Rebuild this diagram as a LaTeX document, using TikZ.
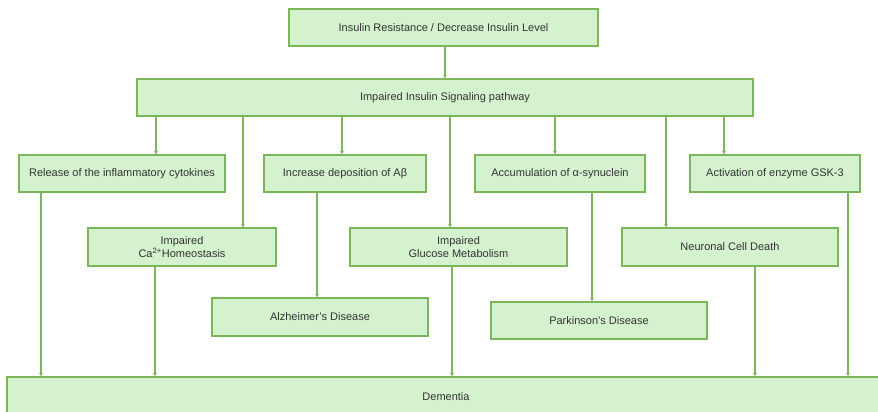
\documentclass[tikz,border=0pt]{standalone}
\usepackage{fontspec}
\setmainfont{Liberation Sans}
\usetikzlibrary{arrows.meta}
\definecolor{boxfill}{HTML}{D4F2CE}
\definecolor{boxline}{HTML}{7CB65A}
\definecolor{txt}{HTML}{333333}
\tikzset{
  box/.style={draw=boxline, fill=boxfill, line width=1.3pt, inner sep=0pt,
    align=center, text=txt, font=\fontsize{11}{12.5}\selectfont},
  arr/.style={draw=boxline, line width=1.1pt, -{Triangle[length=3.5pt,width=3.5pt]}},
}
\begin{document}
\begin{tikzpicture}[x=1pt,y=-1pt]
\path[fill=white,use as bounding box] (0,0) rectangle (878,412);
\begin{scope}
\clip (0,0) rectangle (878,412);
\node[box, minimum width=309pt, minimum height=37pt] (top) at (443.5,27.5) {Insulin Resistance / Decrease Insulin Level};
\node[box, minimum width=616pt, minimum height=37pt] (sig) at (445,97.5) {Impaired Insulin Signaling pathway};
\node[box, minimum width=206pt, minimum height=37pt] (rel) at (122,173.5) {Release of the inflammatory cytokines};
\node[box, minimum width=162pt, minimum height=37pt] (inc) at (345,173.5) {Increase deposition of Aβ};
\node[box, minimum width=170pt, minimum height=37pt] (acc) at (560,173.5) {Accumulation of α-synuclein};
\node[box, minimum width=170pt, minimum height=37pt] (act) at (775,173.5) {Activation of enzyme GSK-3};
\node[box, minimum width=188pt, minimum height=38pt] (ca) at (182,247) {Impaired\\Ca\textsuperscript{2+}Homeostasis};
\node[box, minimum width=217pt, minimum height=38pt] (glu) at (458.5,247) {Impaired\\Glucose Metabolism};
\node[box, minimum width=216pt, minimum height=38pt] (neu) at (730,247) {Neuronal Cell Death};
\node[box, minimum width=216pt, minimum height=38pt] (alz) at (320,317) {Alzheimer's Disease};
\node[box, minimum width=216pt, minimum height=37pt] (par) at (599,320.5) {Parkinson's Disease};
\node[box, minimum width=878pt, minimum height=40pt] (dem) at (446,397) {Dementia};
\end{scope}
\coordinate (xa) at (445,0);
\coordinate (x1) at (156,0);
\coordinate (x2) at (243,0);
\coordinate (x3) at (342,0);
\coordinate (x4) at (450,0);
\coordinate (x5) at (555,0);
\coordinate (x6) at (666,0);
\coordinate (x7) at (724,0);
\coordinate (y1) at (41,0);
\coordinate (y2) at (155,0);
\coordinate (y3) at (317,0);
\coordinate (y4) at (452,0);
\coordinate (y5) at (592,0);
\coordinate (y6) at (755,0);
\coordinate (y7) at (848,0);
\draw[arr] (top.south -| xa) -- (sig.north -| xa);
\draw[arr] (sig.south -| x1) -- (rel.north -| x1);
\draw[arr] (sig.south -| x2) -- (ca.north -| x2);
\draw[arr] (sig.south -| x3) -- (inc.north -| x3);
\draw[arr] (sig.south -| x4) -- (glu.north -| x4);
\draw[arr] (sig.south -| x5) -- (acc.north -| x5);
\draw[arr] (sig.south -| x6) -- (neu.north -| x6);
\draw[arr] (sig.south -| x7) -- (act.north -| x7);
\draw[arr] (rel.south -| y1) -- (dem.north -| y1);
\draw[arr] (ca.south -| y2) -- (dem.north -| y2);
\draw[arr] (inc.south -| y3) -- (alz.north -| y3);
\draw[arr] (glu.south -| y4) -- (dem.north -| y4);
\draw[arr] (acc.south -| y5) -- (par.north -| y5);
\draw[arr] (neu.south -| y6) -- (dem.north -| y6);
\draw[arr] (act.south -| y7) -- (dem.north -| y7);
\end{tikzpicture}
\end{document}
